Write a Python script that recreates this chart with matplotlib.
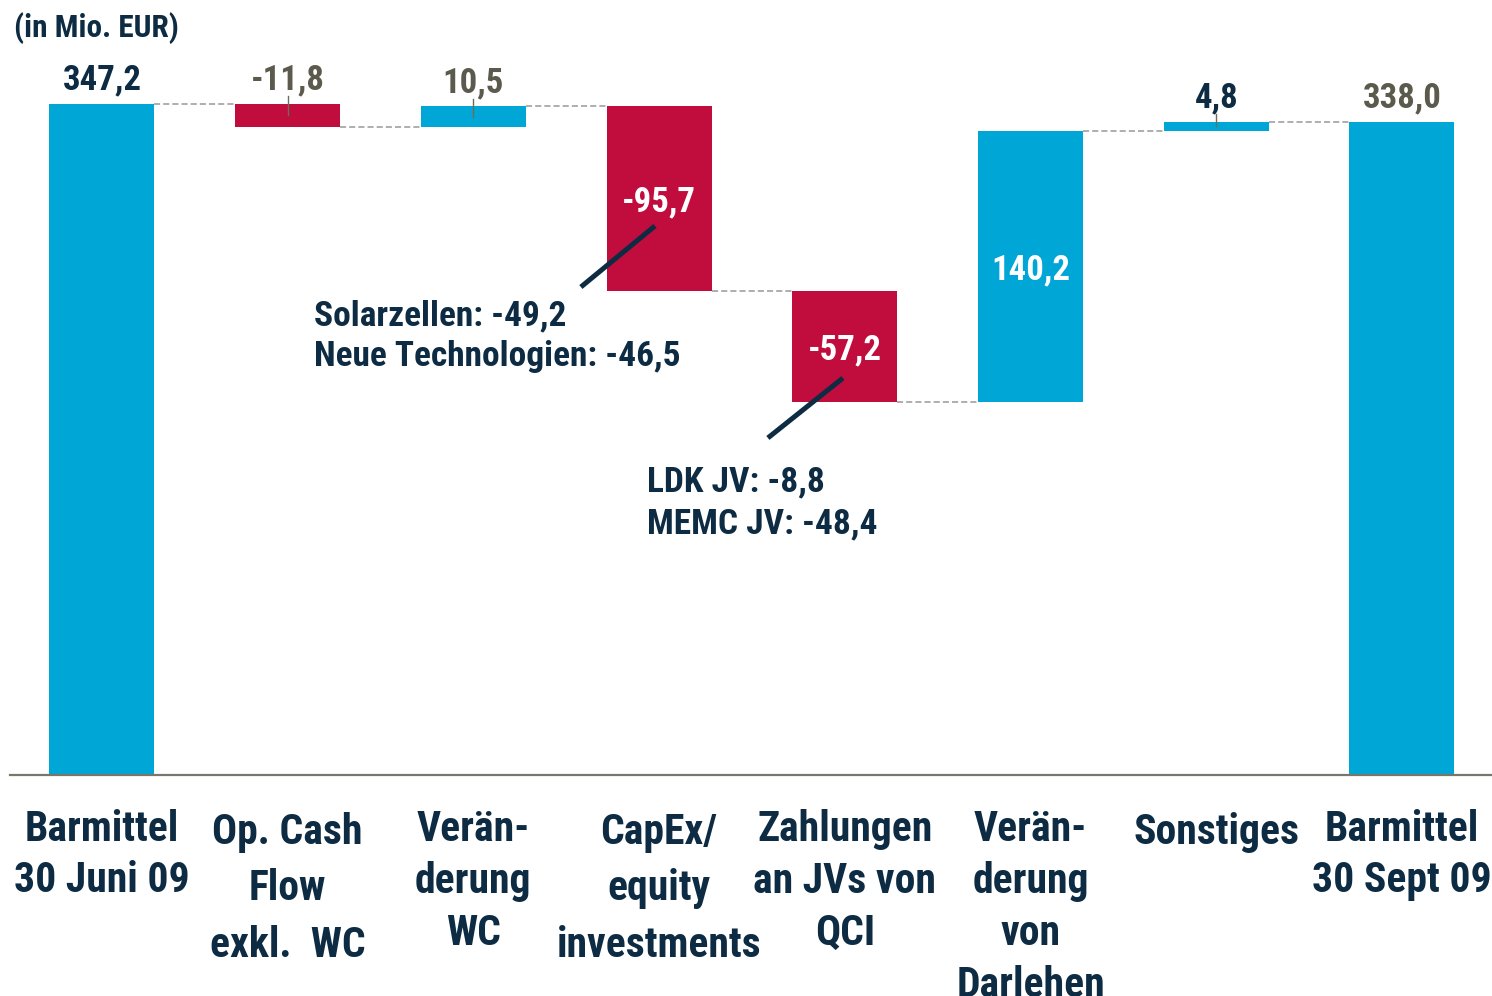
import matplotlib
matplotlib.use("Agg")
import matplotlib.pyplot as plt
from matplotlib import font_manager

# data (in Mio. EUR)
categories = ["Barmittel\n30 Juni 09", "Op. Cash\nFlow\nexkl.  WC", "Verän-\nderung\nWC",
              "CapEx/\nequity\ninvestments", "Zahlungen\nan JVs von\nQCI",
              "Verän-\nderung\nvon\nDarlehen", "Sonstiges", "Barmittel\n30 Sept 09"]
values = [347.2, -11.8, 10.5, -95.7, -57.2, 140.2, 4.8, 338.0]
is_total = [True, False, False, False, False, False, False, True]
value_labels = ["347,2", "-11,8", "10,5", "-95,7", "-57,2", "140,2", "4,8", "338,0"]
label_inside = [False, False, False, True, True, True, False, False]
label_grey = [False, True, True, False, False, False, False, True]

# per-label line spacing and drop below the axis (pixels)
label_spacing = [1.32, 1.48, 1.34, 1.48, 1.34, 1.34, 1.34, 1.32]
label_drop = [34, 37, 34, 37, 34, 34, 37, 34]

capex_note = "Solarzellen: -49,2\nNeue Technologien: -46,5"
jv_note = "LDK JV: -8,8\nMEMC JV: -48,4"

BLUE = "#00a7d6"
RED = "#c10d3d"
NAVY = "#0d2b42"
GREY = "#5b5a4c"

# pick a narrow bold font if one is installed
fonts = font_manager.fontManager.ttflist
names = {f.name for f in fonts}
stretch = "normal"
scale = 1.0
narrow_names = sorted(n for n in names if "Narrow" in n or "Condensed" in n)
if "Liberation Sans Narrow" in names:
    family = "Liberation Sans Narrow"
elif "Roboto Condensed" in names:
    family = "Roboto Condensed"
elif narrow_names:
    family = narrow_names[0]
elif any(f.name == "DejaVu Sans" and f.stretch in ("condensed", "semi-condensed") for f in fonts):
    family = "DejaVu Sans"
    stretch = "condensed"
    scale = 0.9
else:
    family = "Liberation Sans"
    scale = 0.82
plt.rcParams["font.family"] = [family, "DejaVu Sans"]
plt.rcParams["font.weight"] = "bold"
plt.rcParams["font.stretch"] = stretch

fig = plt.figure(figsize=(14.92, 9.96), dpi=100)
ax = fig.add_axes([10 / 1492, 221 / 996, 1482 / 1492, 775 / 996])
ax.set_xlim(-0.495, 7.485)
ax.set_ylim(0, 401)
for s in ["top", "right", "left"]:
    ax.spines[s].set_visible(False)
ax.spines["bottom"].set_color("#77776a")
ax.spines["bottom"].set_linewidth(1.6)
ax.set_xticks([])
ax.set_yticks([])

width = 0.565
running = 0
levels = []
for i, v in enumerate(values):
    if is_total[i]:
        bottom, height = 0, v
        running = v
        color = BLUE
    else:
        bottom = running if v > 0 else running + v
        height = abs(v)
        running += v
        color = BLUE if v > 0 else RED
    levels.append(running)
    ax.bar(i, height, bottom=bottom, width=width, color=color, zorder=2)
    top = bottom + height
    if label_inside[i]:
        ax.annotate(value_labels[i], (i, bottom + height / 2), xytext=(0, -3),
                    textcoords="offset pixels", ha="center", va="center",
                    color="white", fontsize=25 * scale)
    else:
        ax.annotate(value_labels[i], (i, top), xytext=(0, 24), textcoords="offset pixels",
                    ha="center", va="center", fontsize=25 * scale,
                    color=GREY if label_grey[i] else NAVY)
        if not is_total[i]:
            ax.plot([i, i], [bottom + height / 2, top + 4], color="#6b6b5e", lw=1, zorder=3)

# dashed connectors
for i in range(len(values) - 1):
    ax.plot([i + width / 2, i + 1 - width / 2], [levels[i], levels[i]],
            ls=(0, (4, 2)), color="#999999", lw=1.1, zorder=1)

# category labels
for i, c in enumerate(categories):
    ax.annotate(c, (i, 0), xycoords=("data", "axes fraction"), xytext=(0, -label_drop[i]),
                textcoords="offset pixels", ha="center", va="top", fontsize=30 * scale,
                color=NAVY, linespacing=label_spacing[i] / scale ** 0.5,
                annotation_clip=False)

# notes with leader lines
ax.plot([2.978, 2.579], [284.1, 252.5], color=NAVY, lw=3.6, solid_capstyle="butt", zorder=4)
ax.plot([3.990, 3.586], [205.4, 174.4], color=NAVY, lw=3.6, solid_capstyle="butt", zorder=4)
ax.text(1.142, 227.0, capex_note, ha="left", va="center", fontsize=25.5 * scale, color=NAVY,
        linespacing=1.31 / scale ** 0.5)
ax.text(2.935, 140.8, jv_note, ha="left", va="center", fontsize=25.5 * scale, color=NAVY,
        linespacing=1.31 / scale ** 0.5)

fig.text(14 / 1492, 1 - 28 / 996, "(in Mio. EUR)", ha="left", va="center",
         fontsize=22.5 * scale, color=NAVY)

fig.savefig("out.png", dpi=100)
